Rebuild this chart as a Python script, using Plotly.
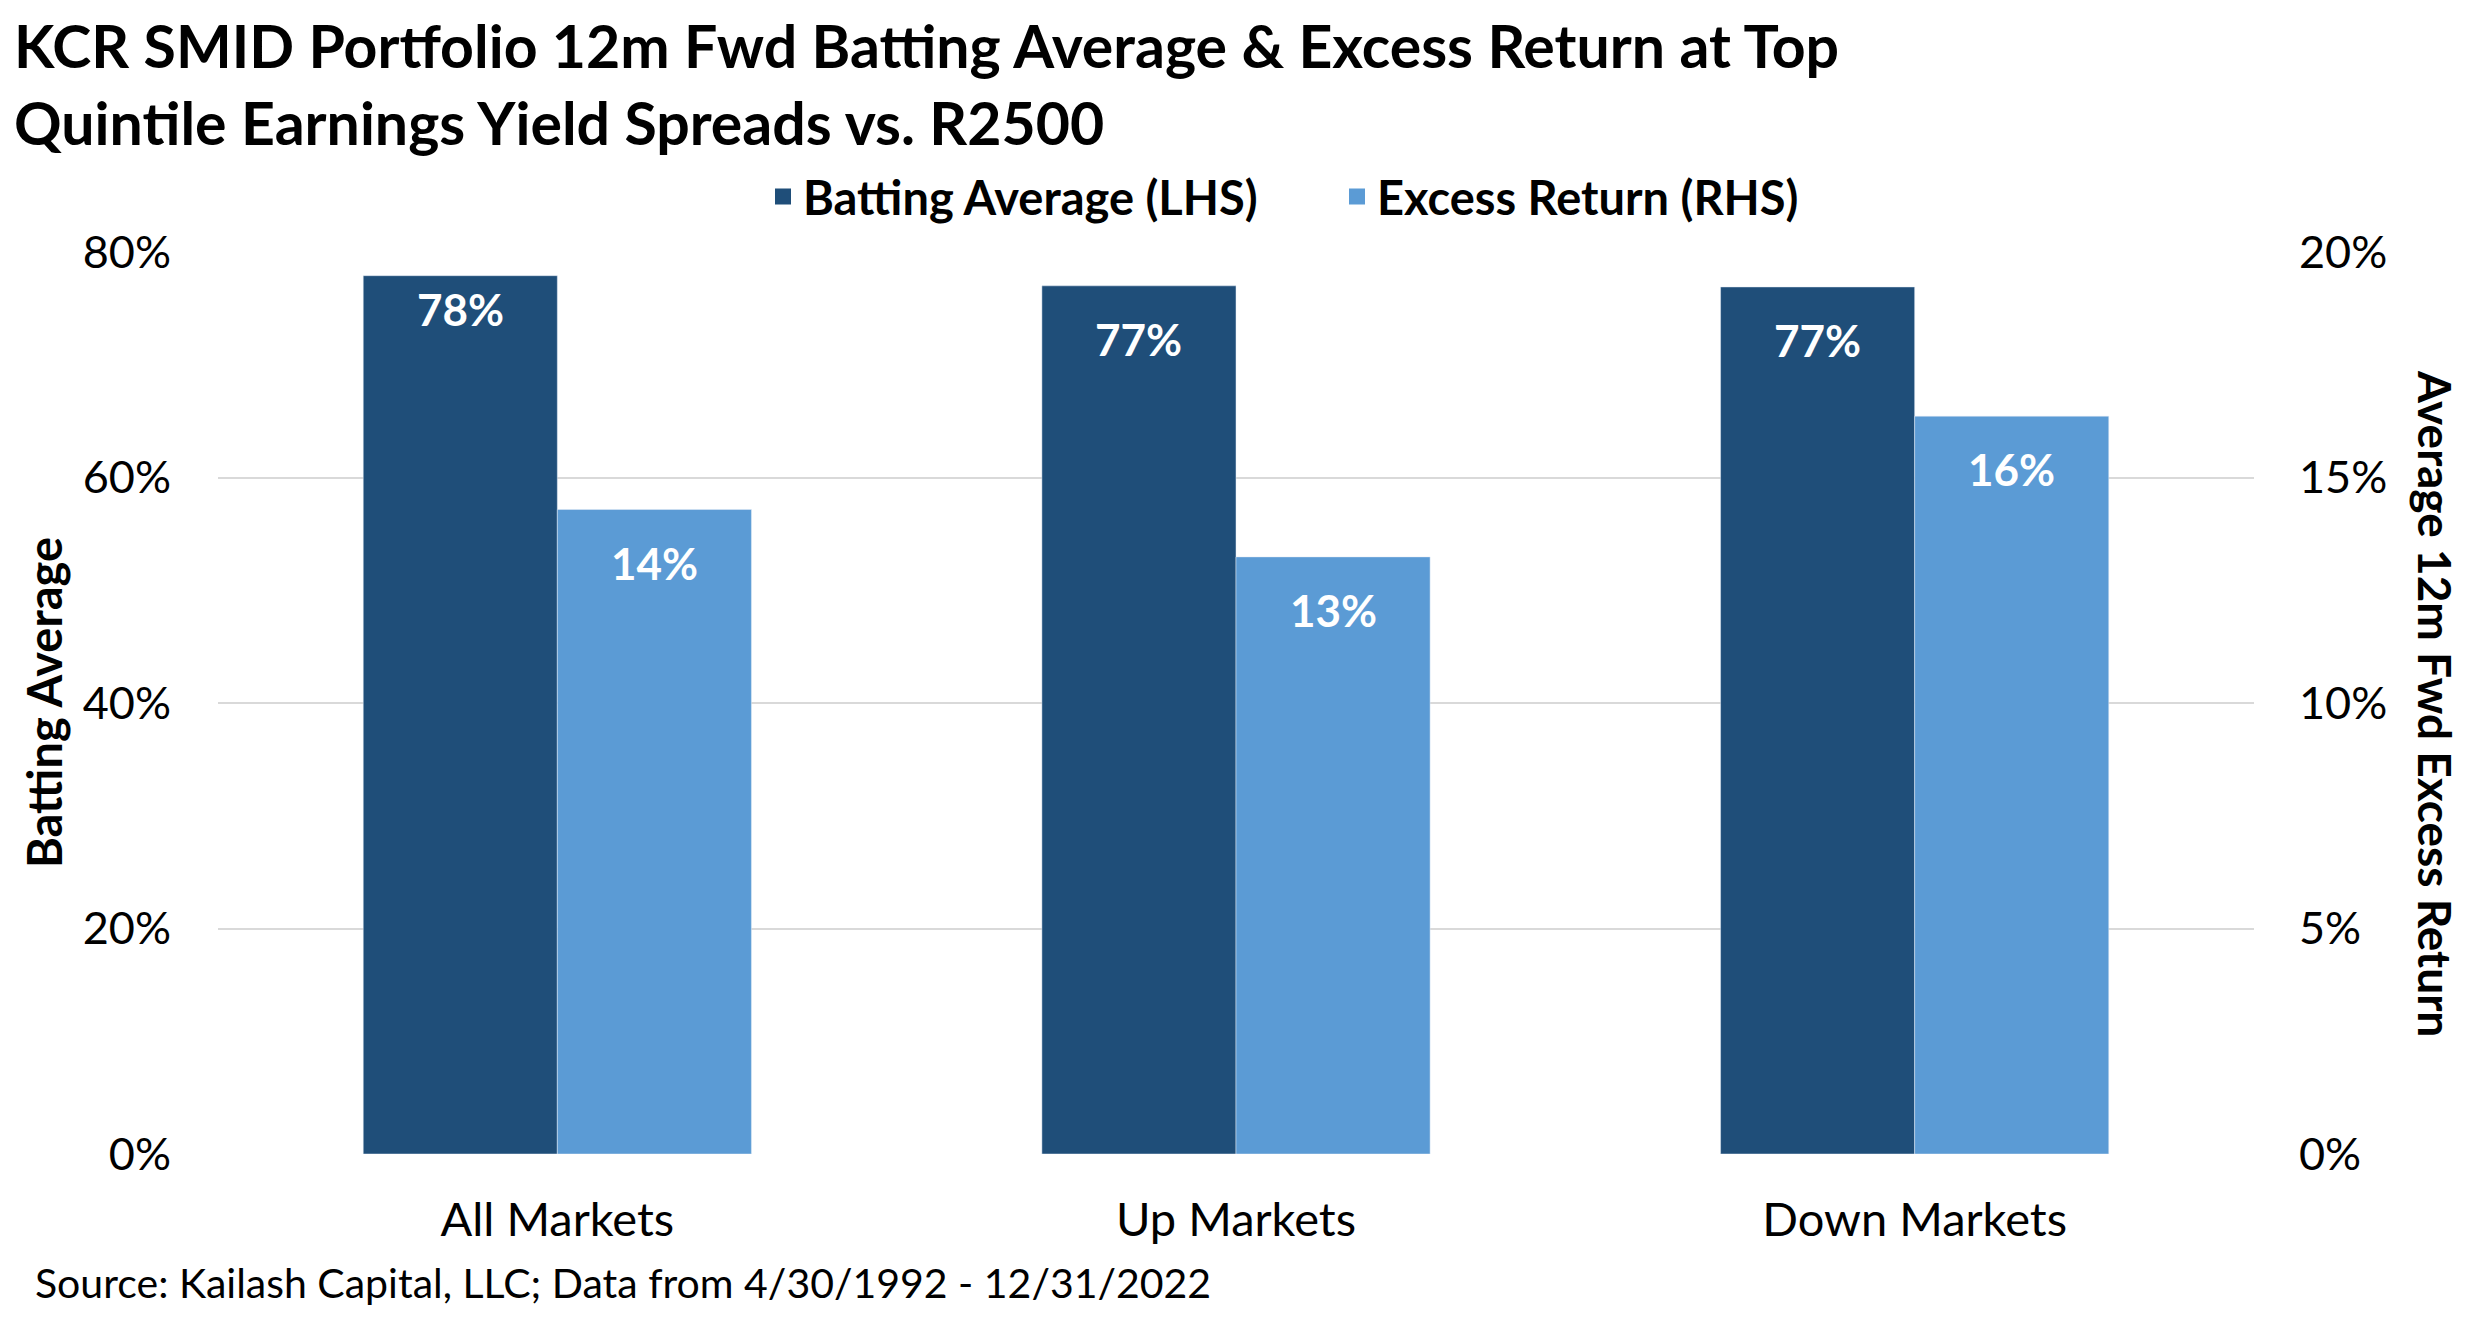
import plotly.graph_objects as go

categories = ["All Markets", "Up Markets", "Down Markets"]
batting_avg = [0.779, 0.770, 0.769]
excess_ret = [0.1429, 0.1324, 0.1636]
left_ticks = [0, 0.2, 0.4, 0.6, 0.8]
right_ticks = [0, 0.05, 0.10, 0.15, 0.20]

DARK = "#1F4E79"
LIGHT = "#5B9BD5"
FONT = "Lato"

W, H = 2475, 1320
ML, MR, MT, MB = 218, 221, 252, 166
plot_w = W - ML - MR
plot_h = H - MT - MB
bargap = 0.428
bar_w = plot_w / len(categories) * (1 - bargap) / 2


def px_x(p):
    return (p - ML) / plot_w


def px_y(p):
    return (H - MB - p) / plot_h


fig = go.Figure()
fig.add_trace(go.Bar(x=categories, y=batting_avg, name="Batting Average (LHS)",
                     marker_color=DARK, offsetgroup="1", yaxis="y", showlegend=False))
fig.add_trace(go.Bar(x=categories, y=excess_ret, name="Excess Return (RHS)",
                     marker_color=LIGHT, offsetgroup="2", yaxis="y2", showlegend=False))
# legend entries (square swatches)
fig.add_trace(go.Scatter(x=[None], y=[None], mode="markers", name="Batting Average (LHS)",
                         marker=dict(symbol="square", size=16, color=DARK), legend="legend"))
fig.add_trace(go.Scatter(x=[None], y=[None], mode="markers", name="Excess Return (RHS)",
                         marker=dict(symbol="square", size=16, color=LIGHT), legend="legend2"))

ann = []
dark_shift = [-33, -53, -53]
lbl_font = dict(family=FONT, size=44, color="white", weight="bold")
for i, c in enumerate(categories):
    ann.append(dict(x=c, y=batting_avg[i], xref="x", yref="y", text=f"{batting_avg[i]:.0%}",
                    showarrow=False, xshift=-bar_w / 2, yshift=dark_shift[i], yanchor="middle",
                    font=lbl_font))
    ann.append(dict(x=c, y=excess_ret[i], xref="x", yref="y2", text=f"{excess_ret[i]:.0%}",
                    showarrow=False, xshift=bar_w / 2, yshift=-53, yanchor="middle",
                    font=lbl_font))

ann.append(dict(text="KCR SMID Portfolio 12m Fwd Batting Average & Excess Return at Top<br>Quintile Earnings Yield Spreads vs. R2500",
                xref="paper", yref="paper", x=px_x(12), y=px_y(8), xanchor="left", yanchor="top",
                align="left", showarrow=False,
                font=dict(family=FONT, size=59, color="black", weight="bold")))
ann.append(dict(text="Batting Average", textangle=-90, xref="paper", yref="paper",
                x=px_x(44), y=0.5, showarrow=False, xanchor="center", yanchor="middle",
                font=dict(family=FONT, size=47, color="black", weight="bold")))
ann.append(dict(text="Average 12m Fwd Excess Return", textangle=90, xref="paper", yref="paper",
                x=px_x(2436), y=0.5, showarrow=False, xanchor="center", yanchor="middle",
                font=dict(family=FONT, size=46, color="black", weight="bold")))
ann.append(dict(text="Source: Kailash Capital, LLC; Data from 4/30/1992 - 12/31/2022",
                xref="paper", yref="paper", x=px_x(33), y=px_y(1282), xanchor="left", yanchor="middle",
                showarrow=False, font=dict(family=FONT, size=41, color="black")))

leg_font = dict(family=FONT, size=47, color="black", weight="bold")
fig.update_layout(
    width=W, height=H,
    margin=dict(l=ML, r=MR, t=MT, b=MB),
    paper_bgcolor="white", plot_bgcolor="white",
    barmode="group", bargap=bargap, bargroupgap=0,
    font=dict(family=FONT, color="black"),
    legend=dict(orientation="h", x=px_x(763), xanchor="left", y=px_y(197), yanchor="middle",
                font=leg_font, itemsizing="trace", itemwidth=30, bgcolor="rgba(0,0,0,0)"),
    legend2=dict(orientation="h", x=px_x(1337), xanchor="left", y=px_y(197), yanchor="middle",
                 font=leg_font, itemsizing="trace", itemwidth=30, bgcolor="rgba(0,0,0,0)"),
    xaxis=dict(showgrid=False, showline=False, ticks="", tickfont=dict(size=47, color="black"),
               ticklabelstandoff=34),
    yaxis=dict(range=[0, 0.8], tickvals=left_ticks, tickformat=".0%", showgrid=True,
               gridcolor="#D9D9D9", gridwidth=2, zeroline=False, showline=False,
               tickfont=dict(size=45, color="black"), ticklabelstandoff=46),
    yaxis2=dict(range=[0, 0.2], tickvals=right_ticks, tickformat=".0%", overlaying="y", side="right",
                showgrid=False, zeroline=False, showline=False,
                tickfont=dict(size=45, color="black"), ticklabelstandoff=44),
    annotations=ann,
)

fig.write_html("out.html", config={"displayModeBar": False},
               post_script="document.body.style.margin='0px';")
